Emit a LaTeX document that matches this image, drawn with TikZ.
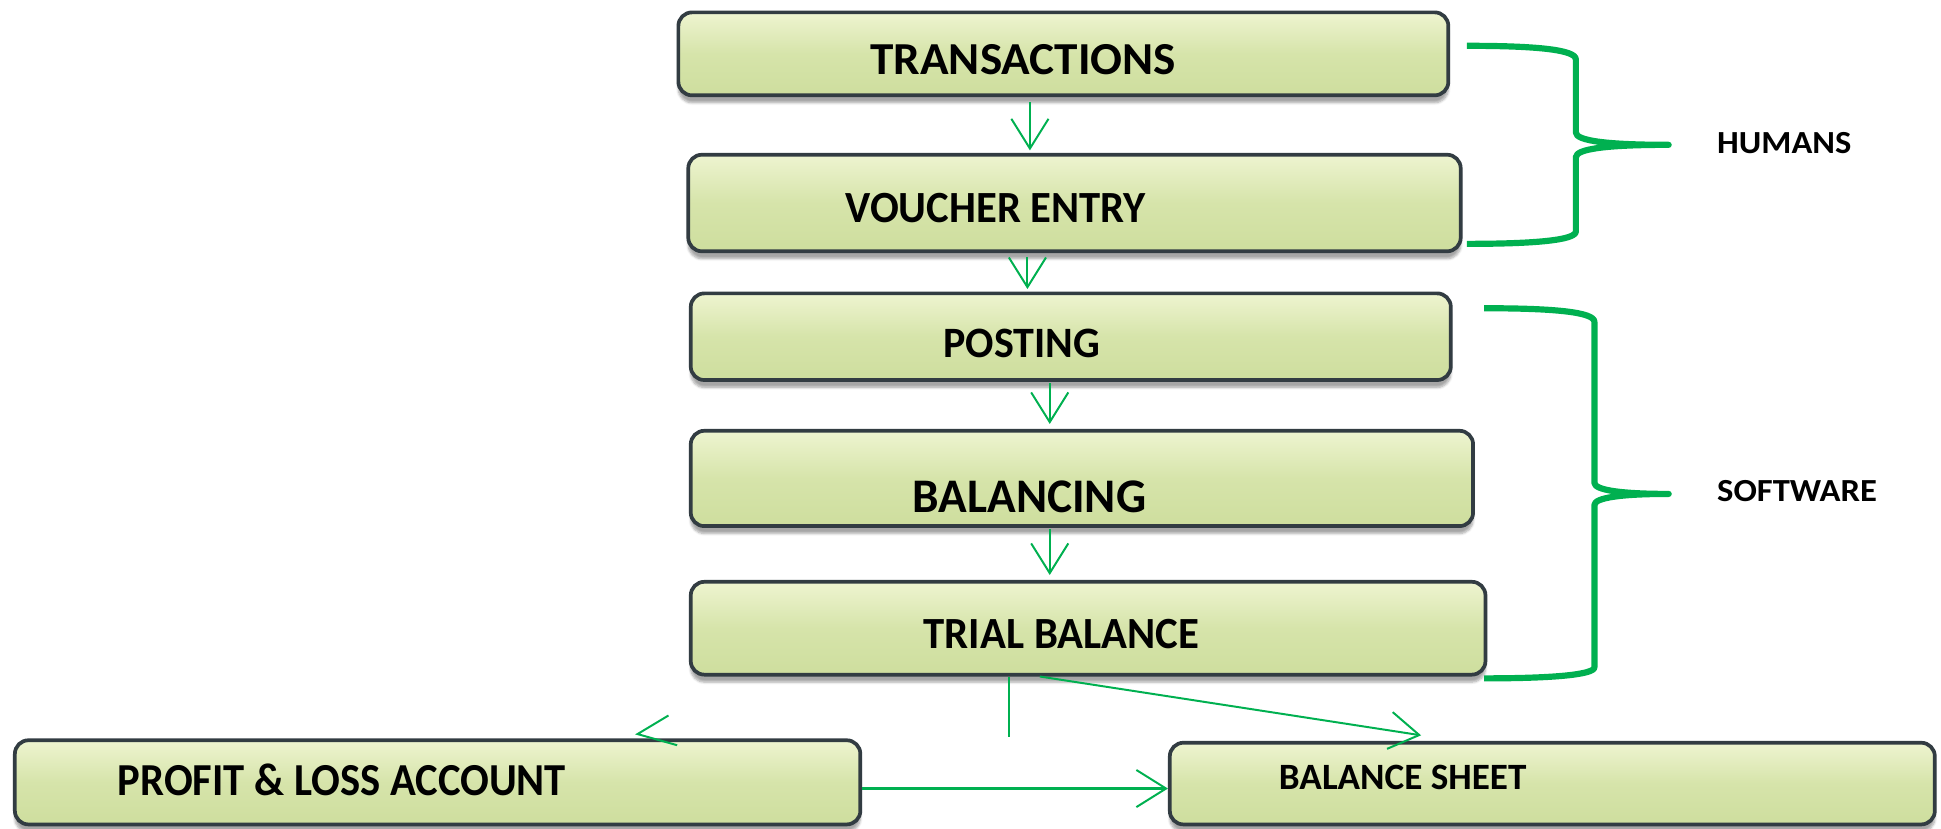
\documentclass[tikz,border=0pt]{standalone}
\usepackage{fontspec}
\setmainfont{Carlito}
\usetikzlibrary{arrows.meta,shadows.blur,calc}
\definecolor{flowgreen}{RGB}{0,176,80}
\definecolor{boxedge}{RGB}{50,60,66}
\definecolor{boxtop}{RGB}{238,244,208}
\definecolor{boxmid}{RGB}{214,228,170}
\definecolor{boxbot}{RGB}{206,222,158}
\newcommand\squeeze[2]{\scalebox{#1}[1]{#2}}
\tikzset{
  stagebox/.style={rectangle, rounded corners=11pt, draw=boxedge, line width=3pt,
    top color=boxtop, bottom color=boxbot, middle color=boxmid, inner sep=0pt,
    blur shadow={shadow xshift=0pt, shadow yshift=-6pt, shadow blur steps=6,
      shadow blur extra rounding=4pt, shadow opacity=35}},
  stagetext/.style={anchor=base west, inner sep=0pt, font=\bfseries},
  sidetext/.style={anchor=base west, inner sep=0pt, font=\bfseries\fontsize{26}{30}\selectfont},
  flowarrow/.style={draw=flowgreen, line width=1.6pt,
    -{Straight Barb[length=24pt, width=30pt, line width=1.6pt]}},
  flowline/.style={draw=flowgreen, line width=1.6pt},
  bracepath/.style={draw=flowgreen, line width=5pt, line join=round}
}
\begin{document}
\begin{tikzpicture}[x=1pt, y=-1pt]
\useasboundingbox (0,0) rectangle (1568,669);

% process stages
\node[stagebox, minimum width=622pt, minimum height=67pt] (trans)   at (859,43.5)  {};
\node[stagebox, minimum width=624pt, minimum height=78pt] (voucher) at (868,164)   {};
\node[stagebox, minimum width=614pt, minimum height=70pt] (posting) at (865,272)   {};
\node[stagebox, minimum width=632pt, minimum height=77pt] (balanc)  at (874,386.5) {};
\node[stagebox, minimum width=642pt, minimum height=75pt] (trial)   at (879,507.5) {};
\node[stagebox, minimum width=683pt, minimum height=68pt] (pl)      at (353.5,632) {};
\node[stagebox, minimum width=618pt, minimum height=66pt] (bs)      at (1254,633)  {};

% stage captions
\node[stagetext, font=\bfseries\fontsize{37}{40}\selectfont] (trans-t)   at (703,60)  {\squeeze{1.03}{TRANSACTIONS}};
\node[stagetext, font=\bfseries\fontsize{36}{40}\selectfont] (voucher-t) at (683,180) {\squeeze{0.957}{VOUCHER ENTRY}};
\node[stagetext, font=\bfseries\fontsize{35}{40}\selectfont] (posting-t) at (762,289) {\squeeze{0.97}{POSTING}};
\node[stagetext, font=\bfseries\fontsize{39}{42}\selectfont] (balanc-t)  at (737,414) {\squeeze{0.98}{BALANCING}};
\node[stagetext, font=\bfseries\fontsize{36}{40}\selectfont] (trial-t)   at (746,524) {\squeeze{0.96}{TRIAL BALANCE}};
\node[stagetext, font=\bfseries\fontsize{37}{40}\selectfont] (pl-t)      at (95,643)  {\squeeze{0.93}{PROFIT \& LOSS ACCOUNT}};
\node[stagetext, font=\bfseries\fontsize{30}{34}\selectfont] (bs-t)      at (1033,638) {BALANCE SHEET};

% flow between stages
\draw[flowarrow, shorten <=4pt, shorten >=2pt] (trans.south -| 832,0)   -- (voucher.north -| 832,0);
\draw[flowarrow, shorten <=3pt, shorten >=2pt] (voucher.south -| 830,0) -- (posting.north -| 830,0);
\draw[flowarrow, shorten <=1pt, shorten >=4pt] (posting.south -| 848,0) -- (balanc.north -| 848,0);
\draw[flowarrow, shorten <=1pt, shorten >=4pt] (balanc.south -| 848,0)  -- (trial.north -| 848,0);

\coordinate (split) at (815,595);
\draw[flowline] (trial.south -| split) -- (split);
\coordinate (bstip) at (1148,594);
\draw[flowarrow] (trial.south -| 840,0) -- (bstip);
\coordinate (pltip) at (515,593);
\coordinate (plarmA) at (540,578);
\coordinate (plarmB) at (547,602);
\draw[flowline, line join=miter] (plarmA) -- (pltip) -- (plarmB);
\draw[flowarrow, line width=2.6pt] (pl.east |- 0,637) -- (bs.west |- 0,637);

% responsibility braces
\draw[bracepath] (1185,37) coordinate (hb-top)
  .. controls (1240,37) and (1273,40) .. (1273,48) -- (1273,107)
  .. controls (1273,114) and (1300,117) .. (1348,117) coordinate (hb-tip)
  .. controls (1300,117) and (1273,120) .. (1273,127) -- (1273,187)
  .. controls (1273,194) and (1240,197) .. (1185,197) coordinate (hb-bot);
\draw[bracepath] (1199,249) coordinate (sb-top)
  .. controls (1255,249) and (1288,252) .. (1288,260) -- (1288,390)
  .. controls (1288,396) and (1310,399) .. (1348,399) coordinate (sb-tip)
  .. controls (1310,399) and (1288,402) .. (1288,408) -- (1288,539)
  .. controls (1288,545) and (1255,548) .. (1199,548) coordinate (sb-bot);

\node[sidetext] (humans)   at (1387,124) {\squeeze{1.07}{HUMANS}};
\node[sidetext] (software) at (1387,405) {\squeeze{1.075}{SOFTWARE}};
\end{tikzpicture}
\end{document}
